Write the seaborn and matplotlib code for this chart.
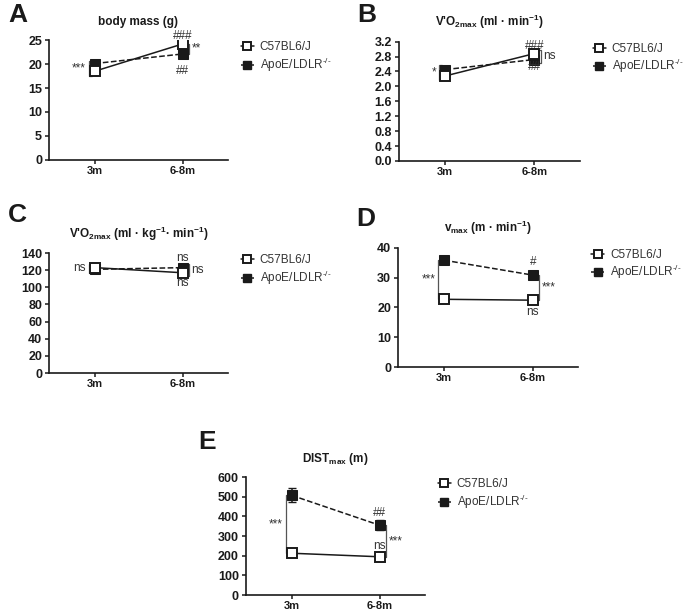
import numpy as np
import pandas as pd
import matplotlib
matplotlib.use("Agg")
import matplotlib.pyplot as plt
from matplotlib.lines import Line2D
import seaborn as sns

sns.set_theme(style="ticks")
plt.rcParams["font.family"] = ["Liberation Sans", "DejaVu Sans"]
plt.rcParams["mathtext.default"] = "regular"

times = ["3m", "6-8m"]
groups = ["C57BL6/J", "ApoE/LDLR$^{\u2010/\u2010}$"]

# means per panel: [3m, 6-8m]
mass_c57 = [18.5, 24.2]
mass_apo = [20.1, 22.1]
mass_err_c57 = [0.4, 0.4]
mass_err_apo = [0.3, 0.3]

vo2_c57 = [2.28, 2.88]
vo2_apo = [2.45, 2.72]
vo2_err_c57 = [0.05, 0.05]
vo2_err_apo = [0.04, 0.05]

vo2kg_c57 = [123, 117]
vo2kg_apo = [121, 123]
vo2kg_err_c57 = [2, 2]
vo2kg_err_apo = [2, 2]

vmax_c57 = [22.7, 22.4]
vmax_apo = [35.8, 30.8]
vmax_err_c57 = [0.4, 0.3]
vmax_err_apo = [1.2, 1.1]

dist_c57 = [213, 195]
dist_apo = [507, 355]
dist_err_c57 = [8, 8]
dist_err_apo = [35, 25]

INK = "#1a1a1a"
GRAY = "#333333"


def draw_panel(ax, c57, apo, e_c57, e_apo, ymax, ystep, title, fmt="{:g}"):
    df = pd.DataFrame({
        "time": times * 2,
        "value": c57 + apo,
        "group": [groups[0]] * 2 + [groups[1]] * 2,
    })
    df["x"] = [0, 1, 0, 1]
    sub = df[df.group == groups[1]]
    sns.lineplot(data=sub, x="x", y="value", ax=ax, color=INK, linestyle="--",
                 marker="s", markersize=6.5, mfc=INK, mec=INK, lw=1.1,
                 legend=False, zorder=3)
    ax.errorbar(sub["x"], sub["value"], yerr=e_apo, fmt="none", ecolor=INK,
                elinewidth=1.1, capsize=3, zorder=3)
    sub = df[df.group == groups[0]]
    sns.lineplot(data=sub, x="x", y="value", ax=ax, color=INK, linestyle="-",
                 marker="s", markersize=6.5, mfc="white", mec=INK, mew=1.4,
                 lw=1.1, legend=False, zorder=4)
    ax.errorbar(sub["x"], sub["value"], yerr=e_c57, fmt="none", ecolor=INK,
                elinewidth=1.1, capsize=3, zorder=2)
    ax.set_xlim(-0.52, 1.51)
    ax.set_ylim(0, ymax)
    yt = np.arange(0, ymax + ystep / 2, ystep)
    ax.set_yticks(yt)
    ax.set_yticklabels([fmt.format(v) for v in yt], fontweight="bold", fontsize=9, color=INK)
    ax.set_xticks([0, 1])
    ax.set_xticklabels(times, fontweight="bold", fontsize=8, color=INK)
    ax.set_xlabel("")
    ax.set_ylabel("")
    ax.set_title(title, fontweight="bold", fontsize=8.5, pad=11, color=INK)
    for s in ["top", "right"]:
        ax.spines[s].set_visible(False)
    for s in ["left", "bottom"]:
        ax.spines[s].set_color(INK)
        ax.spines[s].set_linewidth(1.2)
    ax.tick_params(length=3, width=1.1, color=INK, pad=2)
    ax.tick_params(axis="x", pad=1.5)
    handles = [
        Line2D([], [], color=INK, ls="-", lw=1.1, marker="s", ms=6, mfc="white", mec=INK, mew=1.4),
        Line2D([], [], color=INK, ls=(0, (2, 1.5)), lw=1.1, marker="s", ms=6, mfc=INK, mec=INK),
    ]
    ax.legend(handles, groups, loc="upper left", bbox_to_anchor=(1.02, 1.07),
              frameon=False, fontsize=8.5, handlelength=1.1, handletextpad=0.5,
              labelspacing=0.2, labelcolor=GRAY, borderpad=0.3)


def bracket(ax, x, y1, y2, side, text):
    d = 0.07 if side == "right" else -0.07
    tick = 0.035 * (1 if side == "left" else -1)
    xb = x + d
    ax.plot([xb + tick, xb, xb, xb + tick], [y1, y1, y2, y2], color="#555555", lw=0.9)
    ym = (y1 + y2) / 2
    if side == "left":
        ax.text(xb - 0.03, ym, text, ha="right", va="center", fontsize=8.5, color=GRAY)
    else:
        ax.text(xb + 0.03, ym, text, ha="left", va="center", fontsize=8.5, color=GRAY)


def label(ax, x, y, text):
    ax.text(x, y, text, ha="center", va="center", fontsize=8.5, color=GRAY)


fig = plt.figure(figsize=(6.85, 6.12), dpi=100)
axA = fig.add_axes([0.0715, 0.7386, 0.261, 0.196])
axB = fig.add_axes([0.5825, 0.737, 0.264, 0.195])
axC = fig.add_axes([0.0715, 0.3905, 0.261, 0.196])
axD = fig.add_axes([0.581, 0.4003, 0.263, 0.195])
axE = fig.add_axes([0.359, 0.0275, 0.261, 0.193])

draw_panel(axA, mass_c57, mass_apo, mass_err_c57, mass_err_apo, 25, 5, "body mass (g)")
bracket(axA, 0, mass_c57[0] - 0.9, mass_apo[0] + 0.5, "left", "***")
bracket(axA, 1, mass_apo[1], mass_c57[1], "right", "**")
label(axA, 1, mass_c57[1] + 1.7, "###")
label(axA, 1, mass_apo[1] - 3.5, "##")

draw_panel(axB, vo2_c57, vo2_apo, vo2_err_c57, vo2_err_apo, 3.2, 0.4,
           "V'O$_{2max}$ (ml · min$^{-1}$)", fmt="{:.1f}")
bracket(axB, 0, vo2_c57[0] - 0.12, vo2_apo[0] + 0.12, "left", "*")
bracket(axB, 1, vo2_apo[1] - 0.08, vo2_c57[1] + 0.1, "right", "ns")
label(axB, 1, vo2_c57[1] + 0.2, "###")
label(axB, 1, vo2_apo[1] - 0.2, "##")

draw_panel(axC, vo2kg_c57, vo2kg_apo, vo2kg_err_c57, vo2kg_err_apo, 140, 20,
           "V'O$_{2max}$ (ml · kg$^{-1}$· min$^{-1}$)")
bracket(axC, 0, vo2kg_apo[0] - 4, vo2kg_c57[0] + 4, "left", "ns")
bracket(axC, 1, vo2kg_c57[1] - 4, vo2kg_apo[1] + 4, "right", "ns")
label(axC, 1, vo2kg_apo[1] + 11, "ns")
label(axC, 1, vo2kg_c57[1] - 12, "ns")

draw_panel(axD, vmax_c57, vmax_apo, vmax_err_c57, vmax_err_apo, 40, 10,
           "v$_{max}$ (m · min$^{-1}$)")
bracket(axD, 0, vmax_c57[0], vmax_apo[0], "left", "***")
bracket(axD, 1, vmax_c57[1], vmax_apo[1], "right", "***")
label(axD, 1, vmax_apo[1] + 4.5, "#")
label(axD, 1, vmax_c57[1] - 3.8, "ns")

draw_panel(axE, dist_c57, dist_apo, dist_err_c57, dist_err_apo, 600, 100,
           "DIST$_{max}$ (m)")
bracket(axE, 0, dist_c57[0], dist_apo[0], "left", "***")
bracket(axE, 1, dist_c57[1], dist_apo[1], "right", "***")
label(axE, 1, dist_apo[1] + 60, "##")
label(axE, 1, dist_c57[1] + 55, "ns")

for x, y, t in [(0.012, 0.995, "A"), (0.522, 0.995, "B"), (0.012, 0.668, "C"),
                (0.52, 0.662, "D"), (0.29, 0.298, "E")]:
    fig.text(x, y, t, fontsize=19, fontweight="bold", va="top", ha="left", color=INK)

fig.savefig("out.png", dpi=100, facecolor="white")
